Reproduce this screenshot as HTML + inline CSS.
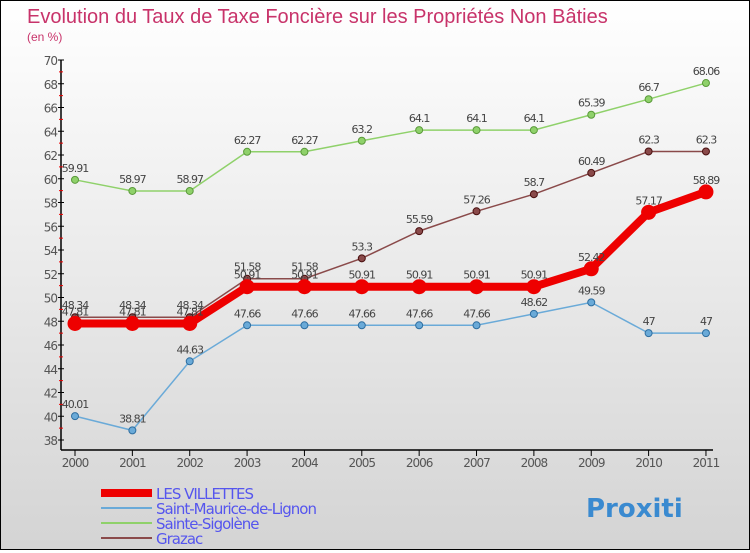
<!DOCTYPE html>
<html><head><meta charset="utf-8"><style>
body{margin:0}
#c{width:748px;height:548px;border:1px solid #000;background:linear-gradient(#fff,#d4d4d4);position:relative;font-family:"DejaVu Sans","Liberation Sans",sans-serif}
</style></head><body>
<div id="c">
<svg id="s" width="748" height="548" xmlns="http://www.w3.org/2000/svg"></svg>
</div>
<script>
const years=["2000","2001","2002","2003","2004","2005","2006","2007","2008","2009","2010","2011"];
const villettes=[47.81,47.81,47.81,50.91,50.91,50.91,50.91,50.91,50.91,52.42,57.17,58.89];
const stMaurice=[40.01,38.81,44.63,47.66,47.66,47.66,47.66,47.66,48.62,49.59,47,47];
const stSigolene=[59.91,58.97,58.97,62.27,62.27,63.2,64.1,64.1,64.1,65.39,66.7,68.06];
const grazac=[48.34,48.34,48.34,51.58,51.58,53.3,55.59,57.26,58.7,60.49,62.3,62.3];
const yTicks=[38,40,42,44,46,48,50,52,54,56,58,60,62,64,66,68,70];
const NS="http://www.w3.org/2000/svg",s=document.getElementById('s');
const X=i=>74+i*57.36, Y=v=>59+(70-v)*11.875;
function el(t,a,txt,name,inter){const e=document.createElementNS(NS,t);for(const k in a)e.setAttribute(k,a[k]);if(txt!=null)e.textContent=txt;


s.appendChild(e);return e;}
el('text',{x:26,y:22,'font-size':20,fill:'#c8336a','font-family':'Liberation Sans'},'Evolution du Taux de Taxe Foncière sur les Propriétés Non Bâties','chart-title');
el('text',{x:26,y:40,'font-size':12,fill:'#c8336a','font-family':'Liberation Sans'},'(en %)','y-axis-unit');
el('line',{x1:60,y1:59,x2:60,y2:449,stroke:'#000','stroke-width':1.5},null,'y-axis');
el('line',{x1:60,y1:449,x2:712,y2:449,stroke:'#000','stroke-width':1.5},null,'x-axis');
yTicks.forEach(v=>{el('line',{x1:57,y1:Y(v),x2:63,y2:Y(v),stroke:'#000'},null,'y-tick');
if(v<70)el('line',{x1:58,y1:Y(v+1),x2:62,y2:Y(v+1),stroke:'#e00'},null,'y-minor-tick');
el('text',{x:56,y:Y(v)+5,'font-size':12,'text-anchor':'end',fill:'#555','letter-spacing':-1},v,'y-tick-label');});
years.forEach((y,i)=>{el('line',{x1:X(i),y1:449,x2:X(i),y2:455,stroke:'#000'},null,'x-tick');
el('text',{x:X(i),y:466,'font-size':12,'text-anchor':'middle',fill:'#555','letter-spacing':-1},y,'x-tick-label');});
function series(d,color,w,r,name,dark){
el('polyline',{points:d.map((v,i)=>X(i)+','+Y(v)).join(' '),fill:'none',stroke:color,'stroke-width':w},null,name+'-line');
d.forEach((v,i)=>{el('circle',{cx:X(i),cy:Y(v),r:r,fill:color,stroke:dark,'stroke-width':1},null,name+'-point');
el('text',{x:X(i),y:Y(v)-8,'font-size':11,'text-anchor':'middle',fill:'#444','letter-spacing':-1},v,name+'-value-label');});}
series(stSigolene,'#8fd16a',1.5,3.5,'sainte-sigolene','#5a9a3a');
series(stMaurice,'#6aaad8',1.5,3.5,'saint-maurice','#2e6ea0');
series(grazac,'#8a4a4a',1.5,3.5,'grazac','#4a1010');
series(villettes,'#ee0000',8,7,'les-villettes','#ee0000');
const leg=[['LES VILLETTES','#ee0000',8],['Saint-Maurice-de-Lignon','#6aaad8',2],['Sainte-Sigolène','#8fd16a',2],['Grazac','#8a4a4a',2]];
leg.forEach((l,i)=>{const y=492+i*15;el('line',{x1:100,y1:y,x2:151,y2:y,stroke:l[1],'stroke-width':l[2]},null,'legend-swatch');
el('text',{x:155,y:y+6,'font-size':15,fill:'#5555ee','letter-spacing':-1},l[0],'legend-entry');});
el('text',{x:585,y:516,'font-size':26,'font-weight':'bold',fill:'#3a8ad0'},'Proxiti','proxiti-logo');
</script>
</body></html>
